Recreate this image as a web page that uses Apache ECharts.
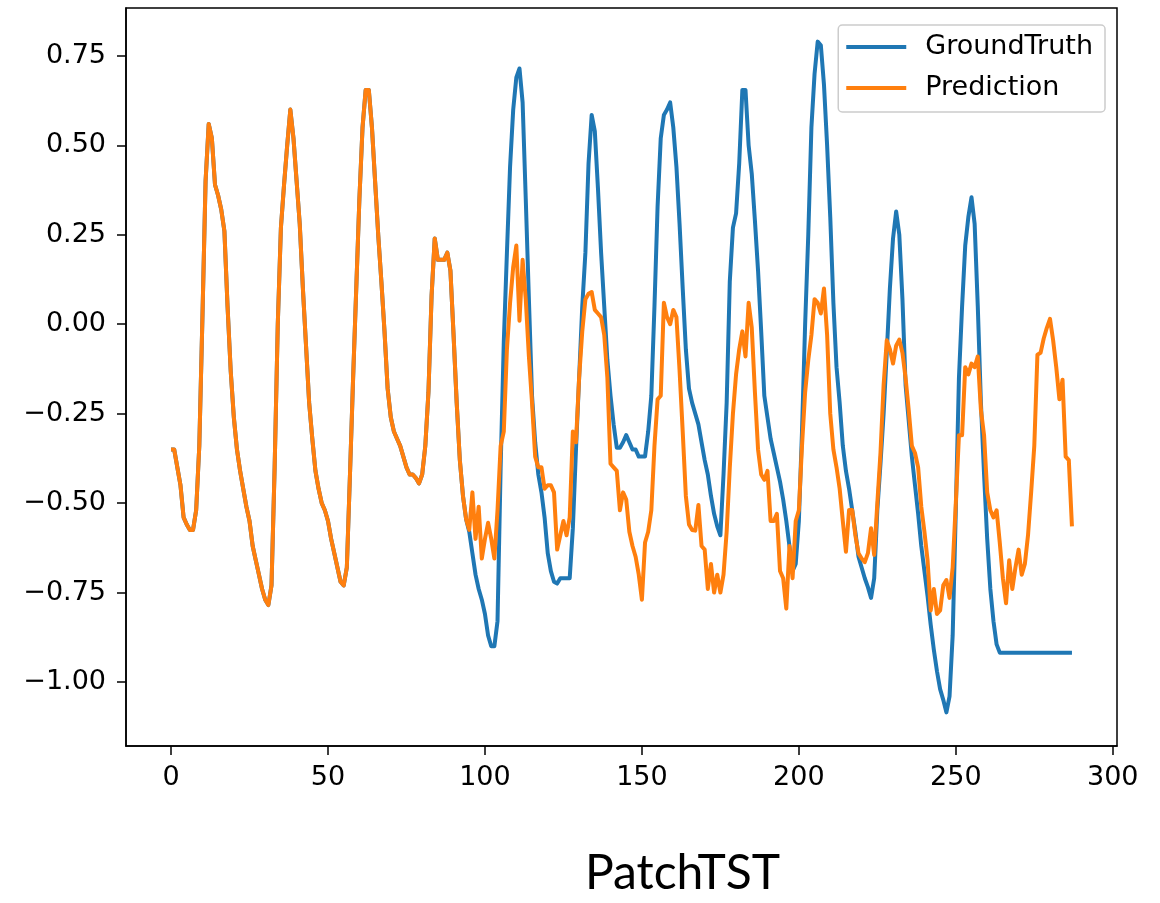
<!DOCTYPE html>
<html>
<head>
<meta charset="utf-8">
<title>PatchTST</title>
<script src="https://cdn.jsdelivr.net/npm/echarts@6/dist/echarts.min.js"></script>
<style>
  html, body { margin: 0; padding: 0; background: #fff; }
  #chart { width: 1160px; height: 903px; }
</style>
</head>
<body>
<div id="chart"></div>
<script>
// values, one per time step (0..287)
const groundTruth = [
  -0.35, -0.35, -0.40, -0.45, -0.54, -0.56, -0.575, -0.575, -0.52, -0.34,
  0.02, 0.40, 0.56, 0.52, 0.39, 0.36, 0.32, 0.26, 0.05, -0.13,
  -0.26, -0.35, -0.41, -0.46, -0.51, -0.55, -0.62, -0.66, -0.70, -0.74,
  -0.77, -0.785, -0.73, -0.40, 0.00, 0.27, 0.39, 0.50, 0.60, 0.52,
  0.40, 0.28, 0.10, -0.06, -0.22, -0.32, -0.41, -0.46, -0.50, -0.52,
  -0.55, -0.60, -0.64, -0.68, -0.72, -0.73, -0.68, -0.42, -0.15, 0.10,
  0.35, 0.55, 0.655, 0.655, 0.55, 0.40, 0.25, 0.12, -0.02, -0.18,
  -0.26, -0.30, -0.32, -0.34, -0.37, -0.40, -0.42, -0.42, -0.43, -0.445,
  -0.42, -0.34, -0.19, 0.08, 0.24, 0.18, 0.18, 0.18, 0.20, 0.15,
  -0.03, -0.22, -0.38, -0.48, -0.545, -0.58, -0.64, -0.70, -0.74, -0.77,
  -0.81, -0.87, -0.90, -0.90, -0.83, -0.40, -0.05, 0.20, 0.44, 0.60,
  0.69, 0.715, 0.62, 0.35, 0.07, -0.20, -0.33, -0.42, -0.47, -0.54,
  -0.64, -0.69, -0.72, -0.725, -0.71, -0.71, -0.71, -0.71, -0.57, -0.35,
  -0.15, 0.05, 0.20, 0.45, 0.585, 0.54, 0.38, 0.20, 0.05, -0.10,
  -0.20, -0.28, -0.345, -0.345, -0.33, -0.31, -0.33, -0.35, -0.35, -0.37,
  -0.37, -0.37, -0.30, -0.20, 0.05, 0.33, 0.52, 0.585, 0.60, 0.62,
  0.55, 0.44, 0.28, 0.10, -0.07, -0.18, -0.22, -0.25, -0.28, -0.33,
  -0.38, -0.42, -0.48, -0.53, -0.565, -0.59, -0.42, -0.22, 0.12, 0.27,
  0.31, 0.45, 0.655, 0.655, 0.50, 0.42, 0.29, 0.15, -0.02, -0.20,
  -0.26, -0.32, -0.36, -0.40, -0.44, -0.49, -0.55, -0.62, -0.69, -0.67,
  -0.55, -0.30, 0.00, 0.25, 0.55, 0.70, 0.79, 0.78, 0.67, 0.50,
  0.30, 0.06, -0.12, -0.22, -0.34, -0.41, -0.46, -0.52, -0.58, -0.65,
  -0.68, -0.71, -0.735, -0.765, -0.71, -0.52, -0.39, -0.25, -0.08, 0.10,
  0.24, 0.315, 0.25, 0.07, -0.17, -0.27, -0.37, -0.45, -0.53, -0.62,
  -0.69, -0.76, -0.84, -0.91, -0.97, -1.02, -1.05, -1.085, -1.04, -0.87,
  -0.52, -0.15, 0.05, 0.22, 0.30, 0.355, 0.28, 0.05, -0.22, -0.42,
  -0.60, -0.74, -0.83, -0.895, -0.918, -0.918, -0.918, -0.918, -0.918, -0.918,
  -0.918, -0.918, -0.918, -0.918, -0.918, -0.918, -0.918, -0.918, -0.918, -0.918,
  -0.918, -0.918, -0.918, -0.918, -0.918, -0.918, -0.918, -0.918
];

const prediction = [
  -0.35, -0.35, -0.40, -0.45, -0.54, -0.56, -0.575, -0.575, -0.52, -0.34,
  0.02, 0.40, 0.56, 0.52, 0.39, 0.36, 0.32, 0.26, 0.05, -0.13,
  -0.26, -0.35, -0.41, -0.46, -0.51, -0.55, -0.62, -0.66, -0.70, -0.74,
  -0.77, -0.785, -0.73, -0.40, 0.00, 0.27, 0.39, 0.50, 0.60, 0.52,
  0.40, 0.28, 0.10, -0.06, -0.22, -0.32, -0.41, -0.46, -0.50, -0.52,
  -0.55, -0.60, -0.64, -0.68, -0.72, -0.73, -0.68, -0.42, -0.15, 0.10,
  0.35, 0.55, 0.655, 0.655, 0.55, 0.40, 0.25, 0.12, -0.02, -0.18,
  -0.26, -0.30, -0.32, -0.34, -0.37, -0.40, -0.42, -0.42, -0.43, -0.445,
  -0.42, -0.34, -0.19, 0.08, 0.24, 0.18, 0.18, 0.18, 0.20, 0.15,
  -0.03, -0.22, -0.38, -0.48, -0.545, -0.575, -0.47, -0.60, -0.51, -0.655,
  -0.60, -0.555, -0.60, -0.655, -0.52, -0.34, -0.30, -0.07, 0.06, 0.16,
  0.22, 0.01, 0.18, 0.07, -0.09, -0.22, -0.37, -0.40, -0.40, -0.46,
  -0.45, -0.45, -0.47, -0.63, -0.59, -0.55, -0.59, -0.54, -0.30, -0.33,
  -0.15, -0.02, 0.07, 0.085, 0.09, 0.04, 0.03, 0.02, -0.03, -0.15,
  -0.39, -0.40, -0.41, -0.52, -0.47, -0.49, -0.58, -0.62, -0.65, -0.70,
  -0.77, -0.61, -0.58, -0.52, -0.34, -0.21, -0.20, 0.06, 0.02, 0.00,
  0.04, 0.02, -0.13, -0.30, -0.48, -0.56, -0.575, -0.577, -0.505, -0.62,
  -0.63, -0.74, -0.67, -0.75, -0.70, -0.75, -0.70, -0.58, -0.40, -0.25,
  -0.14, -0.07, -0.02, -0.09, 0.06, -0.01, -0.19, -0.35, -0.42, -0.435,
  -0.41, -0.55, -0.55, -0.53, -0.69, -0.71, -0.795, -0.62, -0.71, -0.55,
  -0.52, -0.34, -0.19, -0.10, -0.03, 0.07, 0.06, 0.03, 0.10, -0.03,
  -0.25, -0.35, -0.40, -0.46, -0.55, -0.636, -0.519, -0.519, -0.59, -0.64,
  -0.655, -0.665, -0.64, -0.57, -0.645, -0.50, -0.36, -0.17, -0.045, -0.07,
  -0.11, -0.06, -0.043, -0.08, -0.15, -0.24, -0.34, -0.36, -0.40, -0.51,
  -0.58, -0.66, -0.80, -0.74, -0.81, -0.80, -0.73, -0.715, -0.765, -0.68,
  -0.50, -0.31, -0.31, -0.12, -0.14, -0.11, -0.12, -0.09, -0.24, -0.31,
  -0.47, -0.52, -0.54, -0.52, -0.61, -0.71, -0.78, -0.66, -0.74, -0.68,
  -0.63, -0.70, -0.67, -0.59, -0.47, -0.34, -0.085, -0.08, -0.04, -0.01,
  0.015, -0.045, -0.12, -0.21, -0.155, -0.37, -0.38, -0.565
];

const xTicks = [0, 50, 100, 150, 200, 250, 300];
const yTicks = [-1.0, -0.75, -0.5, -0.25, 0.0, 0.25, 0.5, 0.75];
const seriesNames = ['GroundTruth', 'Prediction'];
const seriesColors = ['#1f77b4', '#ff7f0e'];
const chartTitle = 'PatchTST';

const toPairs = arr => arr.map((v, i) => [i, v]);
const fmtY = v => v.toFixed(2).replace('-', '\u2212');

const chart = echarts.init(document.getElementById('chart'), null, { renderer: 'canvas' });

const axisFont = { fontFamily: 'DejaVu Sans', fontSize: 27, color: '#000' };
const tickStyle = { show: true, inside: false, length: 9, lineStyle: { color: '#000', width: 1.5 } };

chart.setOption({
  animation: false,
  backgroundColor: '#fff',
  title: {
    text: chartTitle,
    left: 580,
    top: 845,
    textStyle: { fontFamily: 'Lato', fontSize: 48, fontWeight: 'normal', color: '#000' }
  },
  legend: {
    orient: 'vertical',
    right: 55,
    top: 25,
    data: seriesNames,
    icon: 'rect',
    itemWidth: 60,
    itemHeight: 4,
    itemGap: 9,
    padding: [6, 12, 8, 8],
    backgroundColor: 'rgba(255,255,255,0.8)',
    borderColor: '#cccccc',
    borderWidth: 1.5,
    borderRadius: 4,
    textStyle: {
      fontFamily: 'DejaVu Sans', fontSize: 27, color: '#000',
      lineHeight: 32, padding: [0, 0, 0, 14]
    }
  },
  grid: {
    left: 126, right: 43, top: 8, bottom: 157,
    show: true, borderColor: '#000', borderWidth: 1.5, backgroundColor: '#fff'
  },
  xAxis: {
    type: 'value',
    min: -14.35,
    max: 301.35,
    splitLine: { show: false },
    axisLine: { show: true, onZero: false, lineStyle: { color: '#000', width: 1.5 } },
    axisTick: Object.assign({ customValues: xTicks }, tickStyle),
    axisLabel: Object.assign({ customValues: xTicks, margin: 18 }, axisFont)
  },
  yAxis: {
    type: 'value',
    min: -1.179,
    max: 0.884,
    splitLine: { show: false },
    axisLine: { show: true, onZero: false, lineStyle: { color: '#000', width: 1.5 } },
    axisTick: Object.assign({ customValues: yTicks }, tickStyle),
    axisLabel: Object.assign({ customValues: yTicks, margin: 20, formatter: fmtY }, axisFont)
  },
  series: [
    {
      name: seriesNames[0],
      type: 'line',
      data: toPairs(groundTruth),
      showSymbol: false,
      color: seriesColors[0],
      lineStyle: { width: 4, color: seriesColors[0], join: 'round' },
      z: 2
    },
    {
      name: seriesNames[1],
      type: 'line',
      data: toPairs(prediction),
      showSymbol: false,
      color: seriesColors[1],
      lineStyle: { width: 4, color: seriesColors[1], join: 'round' },
      z: 3
    }
  ]
});
</script>
</body>
</html>
